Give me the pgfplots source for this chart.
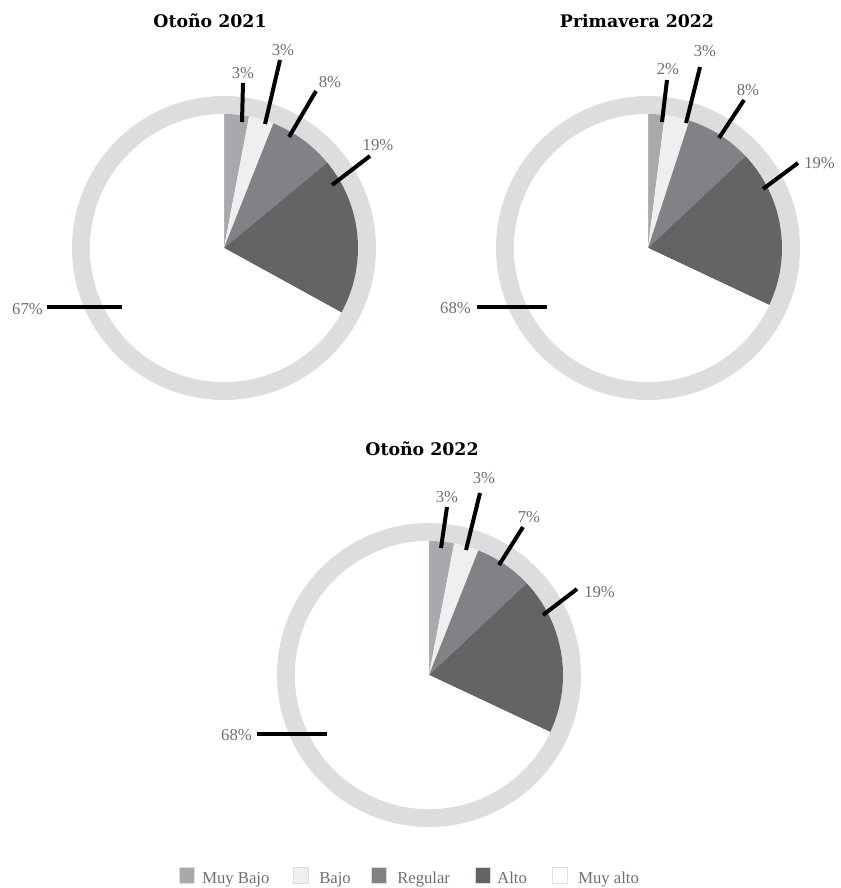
\documentclass[border=0pt]{standalone}
\usepackage{fontspec}
\setmainfont{Liberation Serif}
\newfontfamily\titlefont{DejaVu Serif}
\usepackage{pgfplots}
\usepackage{pgfplotstable}
\pgfplotsset{compat=1.18}

\definecolor{ring}{HTML}{DCDDDE}
\definecolor{pc0}{HTML}{A7A9AC}
\definecolor{pc1}{HTML}{EFEFF0}
\definecolor{pc2}{HTML}{808285}
\definecolor{pc3}{HTML}{636466}
\definecolor{pc4}{HTML}{FFFFFF}
\definecolor{lbl}{HTML}{6D6E71}

% shares per season, in percent (clockwise from the top)
\pgfplotstableread{
cat val
MuyBajo 3
Bajo 3
Regular 8
Alto 19
MuyAlto 67
}\otonoA
\pgfplotstableread{
cat val
MuyBajo 2
Bajo 3
Regular 8
Alto 19
MuyAlto 68
}\primavera
\pgfplotstableread{
cat val
MuyBajo 3
Bajo 3
Regular 7
Alto 19
MuyAlto 68
}\otonoB

\newcommand\drawpie[1]{%
  \draw[ring, line width=13.5pt] (axis cs:0,0) circle [radius=107.25pt];
  \def\cum{0}%
  \pgfplotsforeachungrouped \i in {0,...,4}{%
    \pgfplotstablegetelem{\i}{val}\of{#1}%
    \pgfmathsetmacro\a{90-\cum*3.6}%
    \pgfmathsetmacro\cum{\cum+\pgfplotsretval}%
    \pgfmathsetmacro\b{90-\cum*3.6}%
    \edef\temp{\noexpand\fill[pc\i] (axis cs:0,0) -- (axis cs:{134*cos(\a)},{134*sin(\a)}) arc[start angle=\a, end angle=\b, radius=100.5pt] -- cycle;}%
    \temp
  }%
}
\newcommand\lead[4]{\draw[black, line width=3pt] (axis cs:#1,#2) -- (axis cs:#3,#4);}

\tikzset{lab/.style={text=lbl, font=\fontsize{12.5}{14}\selectfont, inner sep=0pt}}
\pgfplotsset{
  pie/.style={
    hide axis, scale only axis, width=228pt, height=228pt,
    xmin=-152, xmax=152, ymin=-152, ymax=152,
    clip=false, anchor=center,
  },
}

\begin{document}
\begin{tikzpicture}[x=0.75pt, y=0.75pt]
\useasboundingbox (0,0) rectangle (840,-888);

\node[font=\titlefont\bfseries\fontsize{13}{15}\selectfont] at (210,-21) {Otoño 2021};
\node[font=\titlefont\bfseries\fontsize{13}{15}\selectfont] at (637,-21) {Primavera 2022};
\node[font=\titlefont\bfseries\fontsize{13}{15}\selectfont] at (422,-449) {Otoño 2022};

% Otoño 2021
\begin{axis}[pie, at={(224,-248)}]
  \drawpie{\otonoA}
  \lead{18}{126}{19}{165}   \node[lab] at (axis cs:19,175) {3\%};
  \lead{41}{124}{56}{188}   \node[lab] at (axis cs:59,198) {3\%};
  \lead{65}{111}{92}{157}   \node[lab] at (axis cs:106,166) {8\%};
  \lead{108}{63}{146}{92}   \node[lab] at (axis cs:154,103) {19\%};
  \lead{-177}{-59}{-102}{-59} \node[lab, anchor=east] at (axis cs:-181,-61) {67\%};
\end{axis}

% Primavera 2022
\begin{axis}[pie, at={(648,-248)}]
  \drawpie{\primavera}
  \lead{14}{126}{19}{168}   \node[lab] at (axis cs:20,179) {2\%};
  \lead{38}{125}{52}{181}   \node[lab] at (axis cs:57,197) {3\%};
  \lead{71}{110}{96}{148}   \node[lab] at (axis cs:100,158) {8\%};
  \lead{115}{59}{150}{85}   \node[lab, anchor=west] at (axis cs:156,85) {19\%};
  \lead{-171}{-59}{-101}{-59} \node[lab, anchor=east] at (axis cs:-177,-60) {68\%};
\end{axis}

% Otoño 2022
\begin{axis}[pie, at={(429,-675)}]
  \drawpie{\otonoB}
  \lead{12}{127}{18}{168}   \node[lab] at (axis cs:18,178) {3\%};
  \lead{37}{125}{51}{182}   \node[lab] at (axis cs:55,197) {3\%};
  \lead{70}{110}{94}{148}   \node[lab] at (axis cs:100,158) {7\%};
  \lead{114}{60}{148}{86}   \node[lab, anchor=west] at (axis cs:155,83) {19\%};
  \lead{-172}{-59}{-102}{-59} \node[lab, anchor=east] at (axis cs:-177,-60) {68\%};
\end{axis}

% legend
\foreach \c/\xs/\xt/\t in {pc0/179/202/Muy Bajo, pc1/293/319/Bajo, pc2/371/397/Regular, pc3/475/497/Alto, pc4/552/578/Muy alto}{
  \filldraw[fill=\c, draw=ring, line width=0.5pt] (\xs,-867) rectangle ++(15,-16);
  \node[lab, anchor=base west] at (\xt,-883) {\t};
}
\end{tikzpicture}
\end{document}
